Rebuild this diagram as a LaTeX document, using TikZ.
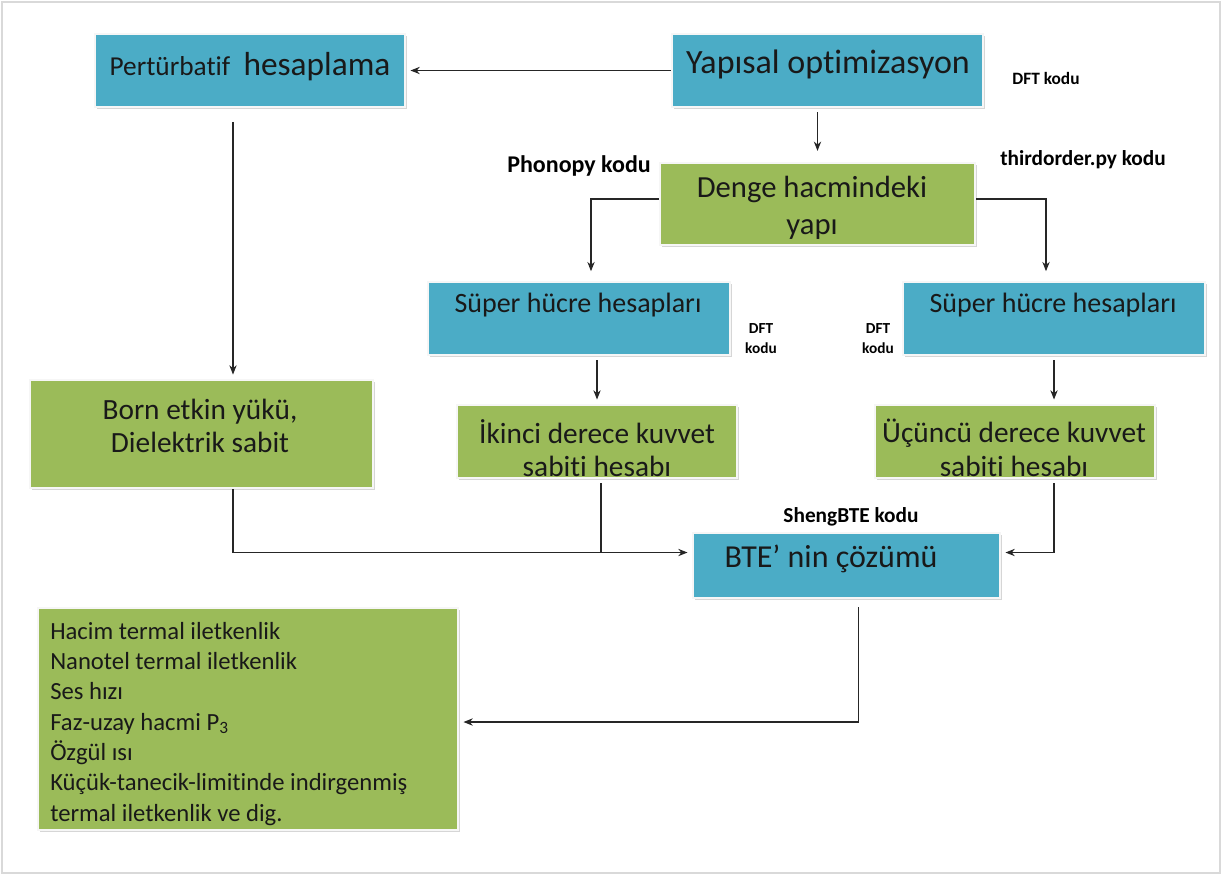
\documentclass[tikz,border=0pt]{standalone}
\usepackage{fontspec}
\setmainfont{Carlito}[RawFeature={-liga}]
\usetikzlibrary{fit,calc,shadows,arrows.meta}
\definecolor{boxblue}{HTML}{4BACC6}
\definecolor{boxgreen}{HTML}{9BBB59}
\begin{document}
\begin{tikzpicture}[x=0.75pt,y=-0.75pt,
  flowbox/.style={draw=gray!7, line width=2.2pt, inner sep=0pt,
    drop shadow={shadow xshift=1.6pt, shadow yshift=-1.6pt, fill=gray!40, opacity=0.8}},
  bluebox/.style={flowbox, fill=boxblue},
  greenbox/.style={flowbox, fill=boxgreen},
  arr/.style={-{Stealth[length=7pt,width=5.5pt]}, line width=0.9pt, black!85},
  conn/.style={line width=0.9pt, black!85},
  lab/.style={font=\bfseries\fontsize{16}{19}\selectfont, inner sep=0pt},
  smalllab/.style={font=\bfseries\fontsize{11.5}{15}\selectfont, inner sep=0pt, align=center},
  txt/.style={inner sep=0pt, align=center, text=black!90}]
\useasboundingbox (0,0) rectangle (1223,876);
\draw[gray!30, line width=0.8pt] (2,2) rectangle (1220,873);

% boxes
\node[bluebox, fit={(95,34) (405,107)}] (pert) {};
\node[bluebox, fit={(672,34) (983,107)}] (yap) {};
\node[greenbox, fit={(660,163) (975,245)}] (denge) {};
\node[bluebox, fit={(428,282) (730,355)}] (supL) {};
\node[bluebox, fit={(903,282) (1205,355)}] (supR) {};
\node[greenbox, fit={(30,380) (373,488)}] (born) {};
\node[greenbox, fit={(457,405) (737,478)}] (ik) {};
\node[greenbox, fit={(875,405) (1155,478)}] (uc) {};
\node[bluebox, fit={(693,533) (1000,598)}] (bte) {};
\node[greenbox, fit={(38,608) (458,830)}] (res) {};

% box texts
\node[txt, anchor=base] (tpert) at (250,75) {{\fontsize{20.5}{24}\selectfont Pertürbatif}\hspace{10pt}{\fontsize{25}{28}\selectfont hesaplama}};
\node[txt, anchor=base] (tyap) at (828,73) {\fontsize{25.5}{30}\selectfont Yapısal optimizasyon};
\node[txt, font=\fontsize{23}{28}\selectfont] (tdenge) at (812,208) {Denge hacmindeki\\yapı};
\node[txt, anchor=base, font=\fontsize{21}{25}\selectfont] (tsupL) at (578,312) {Süper hücre hesapları};
\node[txt, anchor=base, font=\fontsize{21}{25}\selectfont] (tsupR) at (1053,312) {Süper hücre hesapları};
\node[txt, font=\fontsize{22}{25}\selectfont] (tborn) at (200,426) {Born etkin yükü,\\Dielektrik sabit};
\node[txt, font=\fontsize{22}{25}\selectfont] (tik) at (597,448) {İkinci derece kuvvet\\sabiti hesabı};
\node[txt, font=\fontsize{22}{25}\selectfont] (tuc) at (1014,448) {Üçüncü derece kuvvet\\sabiti hesabı};
\node[txt, anchor=base, font=\fontsize{24}{28}\selectfont] (tbte) at (831,567) {BTE’ nin çözümü};
\node[txt, anchor=north west, align=left, font=\fontsize{18.5}{22.7}\selectfont] (tres) at (50,622)
  {Hacim termal iletkenlik\\Nanotel termal iletkenlik\\Ses hızı\\Faz-uzay hacmi P\textsubscript{3}\\Özgül ısı\\Küçük-tanecik-limitinde indirgenmiş\\termal iletkenlik ve dig.};

% labels
\node[lab, font=\bfseries\fontsize{13}{16}\selectfont] (ldft) at (1046,78) {DFT kodu};
\node[lab, font=\bfseries\fontsize{18}{21}\selectfont] (lphon) at (579,166) {Phonopy kodu};
\node[lab] (lthird) at (1083,160) {thirdorder.py kodu};
\node[smalllab] (ldftL) at (761,339) {DFT\\kodu};
\node[smalllab] (ldftR) at (878,339) {DFT\\kodu};
\node[lab] (lsheng) at (851,517) {ShengBTE kodu};

% connectors
\draw[arr, shorten >=3pt] (yap.west) -- (pert.east);
\draw[arr, shorten <=3pt, shorten >=8pt] (denge.north |- yap.south) -- (denge.north);
\coordinate (dengeL) at ($(denge.west)+(0,-5)$);
\coordinate (dengeR) at ($(denge.east)+(0,-5)$);
\coordinate (supLin) at ($(supL.north)+(12,0)$);
\draw[arr, shorten >=7pt] (dengeL) -| (supLin);
\coordinate (supRin) at ($(supR.north)+(-8,0)$);
\draw[arr, shorten >=7pt] (dengeR) -| (supRin);
\coordinate (pertout) at ($(pert.south)+(-17,0)$);
\coordinate (bornin) at ($(born.north)+(31.5,0)$);
\draw[arr, shorten <=10pt, shorten >=3pt] (pertout) -- (bornin);
\draw[arr, shorten <=3pt, shorten >=3pt] (ik.north |- supL.south) -- (ik.north);
\draw[arr, shorten <=3pt, shorten >=3pt] (supR.south) -- (supR.south |- uc.north);
\coordinate (bteL) at ($(bte.west)+(0,-13)$);
\coordinate (bteR) at ($(bte.east)+(0,-13)$);
\coordinate (bornout) at ($(born.south)+(31.5,0)$);
\draw[arr, shorten >=3pt] (bornout) |- (bteL);
\coordinate (ikout) at ($(ik.south)+(4,0)$);
\draw[conn, shorten <=3pt] (ikout) -- (ikout |- bteL);
\coordinate (ucout) at (supR.south |- uc.south);
\draw[arr, shorten <=3pt, shorten >=3pt] (ucout) |- (bteR);
\coordinate (bteout) at ($(bte.south)+(12,0)$);
\coordinate (resin) at ($(res.east)+(0,3)$);
\draw[arr, shorten <=6pt, shorten >=3pt] (bteout) |- (resin);
\end{tikzpicture}
\end{document}
